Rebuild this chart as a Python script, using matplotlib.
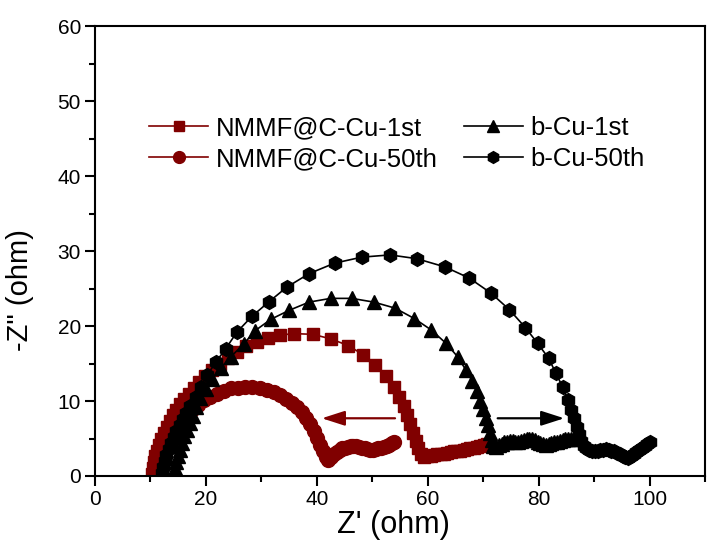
import matplotlib
matplotlib.use("Agg")
import matplotlib.pyplot as plt
from matplotlib.ticker import MultipleLocator

plt.rcParams['font.family'] = ['Liberation Sans', 'DejaVu Sans']

# Nyquist data, Z' and -Z'' in ohm
nmmf_1st_x = [10.3, 10.4, 10.6, 10.9, 11.2, 11.6, 12.0, 12.5, 13.0, 13.5, 14.1, 14.7,
              15.4, 16.1, 16.9, 17.8, 18.8, 19.9, 21.1, 22.5, 24.0, 25.6, 27.3, 29.2,
              31.2, 33.3, 35.9, 39.3, 42.5, 45.7, 48.3, 50.5, 52.4, 53.9, 54.9, 55.7,
              56.3, 56.8, 57.3, 57.8, 58.2, 58.7, 59.3, 59.9, 60.5, 61.1, 61.7, 62.3,
              62.9, 63.5, 64.1, 64.7, 65.3, 65.9, 66.5, 67.1, 67.7, 68.3, 68.9, 69.5,
              70.1, 70.7]
nmmf_1st_y = [0.3, 1.0, 1.8, 2.6, 3.4, 4.2, 5.0, 5.8, 6.6, 7.3, 8.1, 8.8,
              9.6, 10.3, 11.0, 11.8, 12.6, 13.4, 14.2, 15.0, 15.8, 16.6, 17.3, 17.9,
              18.4, 18.8, 19.0, 18.9, 18.3, 17.4, 16.2, 14.8, 13.3, 11.9, 10.6, 9.3,
              8.1, 6.9, 5.8, 4.7, 3.7, 2.9, 2.5, 2.6, 2.7, 2.8, 2.9, 3.0,
              3.0, 3.1, 3.2, 3.3, 3.4, 3.4, 3.5, 3.6, 3.7, 3.8, 3.9, 4.0,
              4.1, 4.3]

nmmf_50th_x = [11.0, 11.2, 11.5, 11.9, 12.4, 12.9, 13.5, 14.2, 14.9, 15.7, 16.6, 17.6,
               18.6, 19.7, 20.8, 22.0, 23.2, 24.5, 25.8, 27.1, 28.4, 29.7, 31.0, 32.2,
               33.4, 34.5, 35.5, 36.4, 37.3, 38.1, 38.8, 39.5, 40.1, 40.6, 41.1, 41.6,
               42.1, 42.6, 43.1, 43.6, 44.1, 44.6, 45.1, 45.6, 46.1, 46.6, 47.1, 47.6,
               48.1, 48.6, 49.1, 49.6, 50.1, 50.6, 51.1, 51.6, 52.1, 52.6, 53.1, 53.6,
               54.0]
nmmf_50th_y = [0.4, 1.2, 2.0, 2.8, 3.6, 4.4, 5.2, 6.0, 6.8, 7.5, 8.2, 8.9,
               9.5, 10.1, 10.6, 11.0, 11.4, 11.7, 11.8, 11.9, 11.9, 11.7, 11.5, 11.2,
               10.8, 10.3, 9.8, 9.2, 8.5, 7.7, 6.9, 6.0, 5.1, 4.2, 3.3, 2.5,
               2.1, 2.5, 2.9, 3.2, 3.5, 3.7, 3.8, 3.9, 4.0, 4.0, 4.0, 3.9,
               3.8, 3.7, 3.6, 3.5, 3.5, 3.6, 3.7, 3.8, 3.9, 4.0, 4.2, 4.4,
               4.6]

bcu_1st_x = [14.3, 14.5, 14.7, 15.0, 15.3, 15.7, 16.1, 16.6, 17.1, 17.6, 18.2, 19.0,
             20.0, 21.1, 22.7, 24.5, 26.8, 28.9, 31.7, 35.0, 38.6, 42.5, 46.3, 50.3,
             54.1, 57.6, 60.6, 63.3, 65.4, 66.9, 68.0, 68.8, 69.5, 70.0, 70.5, 70.9,
             71.2, 71.5, 71.8, 72.3, 72.8, 73.3, 73.8, 74.3, 74.8, 75.3, 75.8, 76.3,
             76.8, 77.3, 77.8, 78.3, 78.8, 79.3, 79.8, 80.3, 80.8, 81.3, 81.8, 82.3,
             82.8, 83.3, 83.8, 84.3, 84.8, 85.3, 85.8, 86.3, 86.8, 87.3]
bcu_1st_y = [0.3, 1.1, 1.9, 2.7, 3.5, 4.4, 5.3, 6.2, 7.1, 8.0, 9.2, 10.4,
             11.6, 12.9, 14.4, 15.9, 17.6, 19.4, 20.9, 22.1, 23.2, 23.7, 23.7, 23.2,
             22.4, 21.0, 19.5, 17.7, 15.9, 14.1, 12.7, 11.3, 10.0, 8.9, 7.8, 6.8,
             5.8, 4.8, 4.0, 3.9, 4.1, 4.3, 4.5, 4.6, 4.7, 4.7, 4.6, 4.6,
             4.7, 4.8, 4.9, 5.0, 4.9, 4.8, 4.6, 4.4, 4.3, 4.2, 4.3, 4.4,
             4.5, 4.6, 4.7, 4.8, 4.9, 4.9, 5.0, 5.0, 5.1, 5.1]

bcu_50th_x = [12.1, 12.3, 12.6, 12.9, 13.3, 13.7, 14.2, 14.7, 15.3, 15.9, 16.5, 17.2,
              18.2, 19.1, 20.3, 21.8, 23.6, 25.6, 28.3, 31.3, 34.6, 38.6, 43.2, 48.1,
              53.2, 58.0, 63.1, 67.5, 71.4, 74.7, 77.6, 79.8, 81.8, 83.1, 84.3, 85.2,
              85.8, 86.4, 86.9, 87.3, 87.7, 88.1, 88.6, 89.1, 89.6, 90.1, 90.6, 91.1,
              91.6, 92.1, 92.6, 93.1, 93.6, 94.1, 94.6, 95.1, 95.6, 96.1, 96.6, 97.1,
              97.6, 98.1, 98.6, 99.1, 99.6, 100.0]
bcu_50th_y = [0.4, 1.2, 2.0, 2.8, 3.6, 4.4, 5.2, 6.0, 6.8, 7.6, 8.4, 9.3,
              10.6, 11.9, 13.5, 15.2, 17.0, 19.2, 21.3, 23.2, 25.2, 27.0, 28.4, 29.2,
              29.5, 29.0, 27.9, 26.4, 24.4, 22.2, 19.8, 17.7, 15.7, 13.7, 11.9, 10.1,
              8.8, 7.7, 6.6, 5.6, 4.7, 4.0, 3.7, 3.5, 3.4, 3.4, 3.4, 3.5,
              3.5, 3.6, 3.5, 3.4, 3.3, 3.1, 2.9, 2.7, 2.5, 2.4, 2.6, 2.9,
              3.2, 3.5, 3.8, 4.0, 4.3, 4.5]

# arrows marking the shift of the low-frequency intercept
red_arrow = {'start': (54.1, 7.7), 'end': (40.9, 7.7)}
black_arrow = {'start': (72.6, 7.7), 'end': (84.6, 7.7)}

dark_red = '#800000'

fig = plt.figure(figsize=(7.08, 5.49), dpi=100)
ax = fig.add_axes([0.134, 0.133, 0.862, 0.819])

ax.plot(nmmf_1st_x, nmmf_1st_y, color=dark_red, lw=1.2, marker='s', ms=8.5,
        mec=dark_red, mfc=dark_red, label='NMMF@C-Cu-1st')
ax.plot(nmmf_50th_x, nmmf_50th_y, color=dark_red, lw=1.2, marker='o', ms=10,
        mec=dark_red, mfc=dark_red, label='NMMF@C-Cu-50th')
ax.plot(bcu_1st_x, bcu_1st_y, color='black', lw=1.2, marker='^', ms=10,
        mec='black', mfc='black', label='b-Cu-1st')
ax.plot(bcu_50th_x, bcu_50th_y, color='black', lw=1.2, marker='h', ms=10,
        mec='black', mfc='black', label='b-Cu-50th')

for arr, col in ((red_arrow, dark_red), (black_arrow, 'black')):
    ax.annotate('', xy=arr['end'], xytext=arr['start'],
                arrowprops=dict(arrowstyle='-|>,head_length=1.4,head_width=0.45',
                                color=col, lw=1.6, shrinkA=0, shrinkB=0))

ax.set_xlim(0, 110)
ax.set_ylim(0, 60)
ax.xaxis.set_major_locator(MultipleLocator(20))
ax.xaxis.set_minor_locator(MultipleLocator(10))
ax.yaxis.set_major_locator(MultipleLocator(10))
ax.yaxis.set_minor_locator(MultipleLocator(5))
ax.tick_params(which='major', direction='out', length=7, width=1.5, labelsize=15, pad=3)
ax.tick_params(which='minor', direction='out', length=4, width=1.5)
for sp in ax.spines.values():
    sp.set_linewidth(1.5)

ax.set_xlabel("Z' (ohm)", fontsize=22, labelpad=1)
ax.xaxis.set_label_coords(0.49, -0.075)
ax.set_ylabel('-Z" (ohm)', fontsize=21)
ax.yaxis.set_label_coords(-0.1, 0.413)

leg = ax.legend(loc='upper left', bbox_to_anchor=(0.068, 0.829), ncol=2,
                frameon=False, fontsize=18.5, handlelength=2.3, handletextpad=0.3,
                columnspacing=1.0, labelspacing=0.27, borderpad=0.0,
                markerscale=0.85)

fig.savefig('out.png', dpi=100)
